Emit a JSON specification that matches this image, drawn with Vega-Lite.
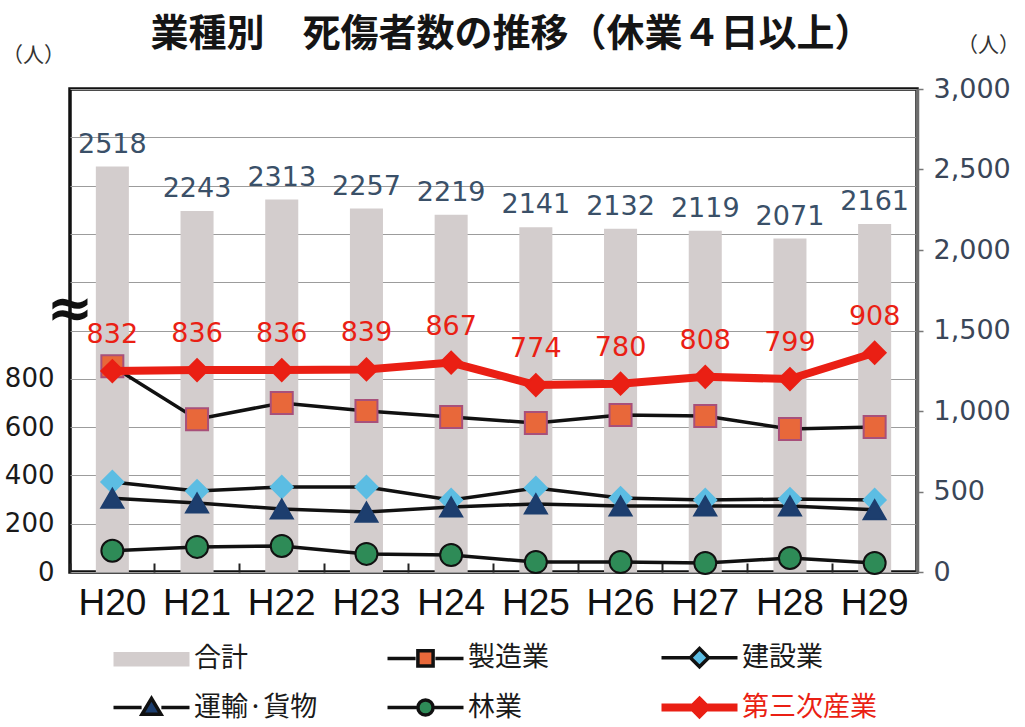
{
  "$schema": "https://vega.github.io/schema/vega-lite/v6.json",
  "width": 847,
  "height": 483,
  "autosize": {"type": "none"},
  "padding": {"left": 70, "top": 89, "right": 108, "bottom": 155},
  "background": "#ffffff",
  "title": {
    "text": "業種別　死傷者数の推移（休業４日以上）",
    "font": "Noto Sans CJK JP",
    "fontSize": 38,
    "fontWeight": "bold",
    "color": "#151515",
    "anchor": "middle",
    "frame": "group",
    "offset": 0,
    "dx": 18,
    "dy": 20
  },
  "config": {
    "view": {"stroke": "#111111", "strokeWidth": 3.5},
    "axis": {"titleFontWeight": "normal"}
  },
  "datasets": {
    "totals": [
      {"year": "H20", "series": "合計", "total": 2518},
      {"year": "H21", "series": "合計", "total": 2243},
      {"year": "H22", "series": "合計", "total": 2313},
      {"year": "H23", "series": "合計", "total": 2257},
      {"year": "H24", "series": "合計", "total": 2219},
      {"year": "H25", "series": "合計", "total": 2141},
      {"year": "H26", "series": "合計", "total": 2132},
      {"year": "H27", "series": "合計", "total": 2119},
      {"year": "H28", "series": "合計", "total": 2071},
      {"year": "H29", "series": "合計", "total": 2161}
    ],
    "series": [
      {"year": "H20", "series": "製造業", "value": 852},
      {"year": "H21", "series": "製造業", "value": 633},
      {"year": "H22", "series": "製造業", "value": 700},
      {"year": "H23", "series": "製造業", "value": 667},
      {"year": "H24", "series": "製造業", "value": 642},
      {"year": "H25", "series": "製造業", "value": 617},
      {"year": "H26", "series": "製造業", "value": 650},
      {"year": "H27", "series": "製造業", "value": 646},
      {"year": "H28", "series": "製造業", "value": 592},
      {"year": "H29", "series": "製造業", "value": 600},
      {"year": "H20", "series": "建設業", "value": 373},
      {"year": "H21", "series": "建設業", "value": 335},
      {"year": "H22", "series": "建設業", "value": 352},
      {"year": "H23", "series": "建設業", "value": 352},
      {"year": "H24", "series": "建設業", "value": 298},
      {"year": "H25", "series": "建設業", "value": 348},
      {"year": "H26", "series": "建設業", "value": 306},
      {"year": "H27", "series": "建設業", "value": 298},
      {"year": "H28", "series": "建設業", "value": 302},
      {"year": "H29", "series": "建設業", "value": 298},
      {"year": "H20", "series": "運輸·貨物", "value": 305},
      {"year": "H21", "series": "運輸·貨物", "value": 286},
      {"year": "H22", "series": "運輸·貨物", "value": 261},
      {"year": "H23", "series": "運輸·貨物", "value": 248},
      {"year": "H24", "series": "運輸·貨物", "value": 269},
      {"year": "H25", "series": "運輸·貨物", "value": 282},
      {"year": "H26", "series": "運輸·貨物", "value": 273},
      {"year": "H27", "series": "運輸·貨物", "value": 273},
      {"year": "H28", "series": "運輸·貨物", "value": 273},
      {"year": "H29", "series": "運輸·貨物", "value": 258},
      {"year": "H20", "series": "林業", "value": 88},
      {"year": "H21", "series": "林業", "value": 104},
      {"year": "H22", "series": "林業", "value": 108},
      {"year": "H23", "series": "林業", "value": 75},
      {"year": "H24", "series": "林業", "value": 70},
      {"year": "H25", "series": "林業", "value": 41},
      {"year": "H26", "series": "林業", "value": 41},
      {"year": "H27", "series": "林業", "value": 37},
      {"year": "H28", "series": "林業", "value": 58},
      {"year": "H29", "series": "林業", "value": 37},
      {"year": "H20", "series": "第三次産業", "value": 832},
      {"year": "H21", "series": "第三次産業", "value": 836},
      {"year": "H22", "series": "第三次産業", "value": 836},
      {"year": "H23", "series": "第三次産業", "value": 839},
      {"year": "H24", "series": "第三次産業", "value": 867},
      {"year": "H25", "series": "第三次産業", "value": 774},
      {"year": "H26", "series": "第三次産業", "value": 780},
      {"year": "H27", "series": "第三次産業", "value": 808},
      {"year": "H28", "series": "第三次産業", "value": 799},
      {"year": "H29", "series": "第三次産業", "value": 908}
    ]
  },
  "layer": [
    {
      "data": {"name": "totals"},
      "layer": [
        {
          "mark": {"type": "bar", "width": {"band": 0.39}},
          "encoding": {
            "x": {
              "field": "year",
              "type": "ordinal",
              "scale": {"type": "band", "paddingInner": 0, "paddingOuter": 0},
              "axis": {
                "orient": "bottom",
                "title": null,
                "domain": false,
                "grid": false,
                "bandPosition": 0,
                "tickSize": -9,
                "tickWidth": 2,
                "tickColor": "#222222",
                "labelAngle": 0,
                "labelFont": "Liberation Sans",
                "labelFontSize": 37,
                "labelColor": "#111111",
                "labelPadding": 22
              }
            },
            "y": {
              "field": "total",
              "type": "quantitative",
              "scale": {"domain": [0, 3000], "nice": false, "zero": true},
              "axis": {
                "orient": "right",
                "values": [0, 500, 1000, 1500, 2000, 2500, 3000],
                "format": ",d",
                "grid": false,
                "domain": true,
                "domainColor": "#6e6e6e",
                "domainWidth": 3.5,
                "tickSize": 6,
                "tickColor": "#777777",
                "tickWidth": 1.5,
                "labelFont": "DejaVu Sans",
                "labelFontSize": 27,
                "labelColor": "#3a4658",
                "labelPadding": 10,
                "title": "（人）",
                "titleAngle": 0,
                "titleX": 71,
                "titleY": -44,
                "titleAlign": "center",
                "titleBaseline": "middle",
                "titleFont": "Noto Sans CJK JP",
                "titleFontSize": 21,
                "titleColor": "#333333"
              }
            },
            "fill": {
              "field": "series",
              "type": "nominal",
              "scale": {
                "domain": ["合計", "製造業", "建設業", "運輸·貨物", "林業", "第三次産業"],
                "range": ["#d3cdcd", "#e8683a", "#5cbde3", "#1d3e6e", "#2e8b57", "#ea1f14"]
              },
              "legend": {
                "title": null,
                "orient": "none",
                "direction": "horizontal",
                "legendX": 68,
                "legendY": 552,
                "columns": 3,
                "gridAlign": "all",
                "columnPadding": 42,
                "rowPadding": 8,
                "padding": 0,
                "labelFont": "Noto Sans CJK JP",
                "labelFontSize": 27,
                "labelOffset": 29,
                "labelLimit": 400,
                "symbolSize": 5776,
                "encode": {
                  "symbols": {
                    "update": {
                      "shape": {"signal": "datum.value === '合計' ? 'M-1,-0.19H1V0.19H-1Z' : datum.value === '製造業' ? 'M-1,0H-0.26M0.26,0H1M-0.2,-0.2H0.2V0.2H-0.2Z' : datum.value === '建設業' ? 'M-1,0H-0.26M0.26,0H1M0,-0.24L0.24,0L0,0.24L-0.24,0Z' : datum.value === '運輸·貨物' ? 'M-1,0H-0.26M0.26,0H1M0,-0.24L0.25,0.18L-0.25,0.18Z' : datum.value === '林業' ? 'M-1,0H-0.24M0.24,0H1M-0.2,0A0.2,0.2,0,1,0,0.2,0A0.2,0.2,0,1,0,-0.2,0Z' : 'M-1,0H-0.16M0.16,0H1M0,-0.16L0.16,0L0,0.16L-0.16,0Z'"},
                      "size": {"value": 5776},
                      "fill": {"scale": "fill", "field": "value"},
                      "stroke": {"signal": "datum.value === '合計' ? 'transparent' : datum.value === '第三次産業' ? '#ea1f14' : '#111111'"},
                      "strokeWidth": {"signal": "datum.value === '第三次産業' ? 8 : datum.value === '合計' ? 0 : 3.5"},
                      "opacity": {"value": 1}
                    }
                  },
                  "labels": {
                    "update": {
                      "fill": {"signal": "datum.value === '第三次産業' ? '#ea1f14' : '#1a1a1a'"}
                    }
                  }
                }
              }
            }
          }
        },
        {
          "mark": {"type": "text", "baseline": "middle", "dy": -22, "font": "DejaVu Sans", "fontSize": 27, "fill": "#3a5068"},
          "encoding": {
            "x": {"field": "year", "type": "ordinal"},
            "y": {"field": "total", "type": "quantitative"},
            "text": {"field": "total", "type": "quantitative", "format": "d"}
          }
        }
      ]
    },
    {
      "data": {"name": "series"},
      "layer": [
        {
          "transform": [{"filter": "datum.series !== '第三次産業'"}],
          "mark": {"type": "line", "strokeWidth": 3.5, "color": "#111111"},
          "encoding": {
            "x": {"field": "year", "type": "ordinal"},
            "y": {
              "field": "value",
              "type": "quantitative",
              "scale": {"domain": [0, 2000], "nice": false, "zero": true},
              "axis": {
                "orient": "left",
                "values": [0, 200, 400, 600, 800, 1000, 1200, 1400, 1600, 1800, 2000],
                "labelExpr": "datum.value <= 800 ? datum.label : ''",
                "grid": true,
                "gridColor": "#9c9c9c",
                "gridWidth": 1.2,
                "domain": false,
                "ticks": false,
                "labelFont": "DejaVu Sans",
                "labelFontSize": 26,
                "labelColor": "#1a1a1a",
                "labelPadding": 16,
                "title": "（人）",
                "titleAngle": 0,
                "titleX": -37,
                "titleY": -34,
                "titleAlign": "center",
                "titleBaseline": "middle",
                "titleFont": "Noto Sans CJK JP",
                "titleFontSize": 21,
                "titleColor": "#333333"
              }
            },
            "detail": {"field": "series", "type": "nominal"}
          }
        },
        {
          "transform": [{"filter": "datum.series !== '第三次産業'"}],
          "mark": {"type": "point", "filled": true, "strokeWidth": 2, "opacity": 1},
          "encoding": {
            "x": {"field": "year", "type": "ordinal"},
            "y": {"field": "value", "type": "quantitative"},
            "fill": {"field": "series", "type": "nominal"},
            "shape": {
              "field": "series",
              "type": "nominal",
              "scale": {"domain": ["製造業", "建設業", "運輸·貨物", "林業", "第三次産業"], "range": ["square", "diamond", "triangle-up", "circle", "diamond"]},
              "legend": null
            },
            "size": {
              "field": "series",
              "type": "nominal",
              "scale": {"domain": ["製造業", "建設業", "運輸·貨物", "林業", "第三次産業"], "range": [484, 484, 484, 441, 650]},
              "legend": null
            },
            "stroke": {
              "field": "series",
              "type": "nominal",
              "scale": {"domain": ["製造業", "建設業", "運輸·貨物", "林業", "第三次産業"], "range": ["#a8507a", "#5cbde3", "#1d3e6e", "#111111", "#ea1f14"]},
              "legend": null
            }
          }
        },
        {
          "transform": [{"filter": "datum.series === '第三次産業'"}],
          "mark": {"type": "line", "strokeWidth": 8, "color": "#ea1f14"},
          "encoding": {
            "x": {"field": "year", "type": "ordinal"},
            "y": {"field": "value", "type": "quantitative"}
          }
        },
        {
          "transform": [{"filter": "datum.series === '第三次産業'"}],
          "mark": {"type": "point", "filled": true, "strokeWidth": 2, "opacity": 1},
          "encoding": {
            "x": {"field": "year", "type": "ordinal"},
            "y": {"field": "value", "type": "quantitative"},
            "fill": {"field": "series", "type": "nominal"},
            "shape": {"field": "series", "type": "nominal", "legend": null},
            "size": {"field": "series", "type": "nominal", "legend": null},
            "stroke": {"field": "series", "type": "nominal", "legend": null}
          }
        },
        {
          "transform": [{"filter": "datum.series === '第三次産業'"}],
          "mark": {"type": "text", "baseline": "middle", "dy": -36, "font": "DejaVu Sans", "fontSize": 27, "fill": "#ea1f14"},
          "encoding": {
            "x": {"field": "year", "type": "ordinal"},
            "y": {"field": "value", "type": "quantitative"},
            "text": {"field": "value", "type": "quantitative", "format": "d"}
          }
        },
        {
          "data": {"values": [{"label": "≈"}]},
          "mark": {"type": "text", "font": "DejaVu Sans", "fontSize": 56, "fontWeight": "bold", "fill": "#111111", "baseline": "middle", "align": "center"},
          "encoding": {
            "x": {"datum": "H20", "type": "ordinal", "bandPosition": 0},
            "y": {"datum": 1085, "type": "quantitative"},
            "text": {"field": "label", "type": "nominal"}
          }
        }
      ]
    }
  ],
  "resolve": {"scale": {"y": "independent"}}
}
